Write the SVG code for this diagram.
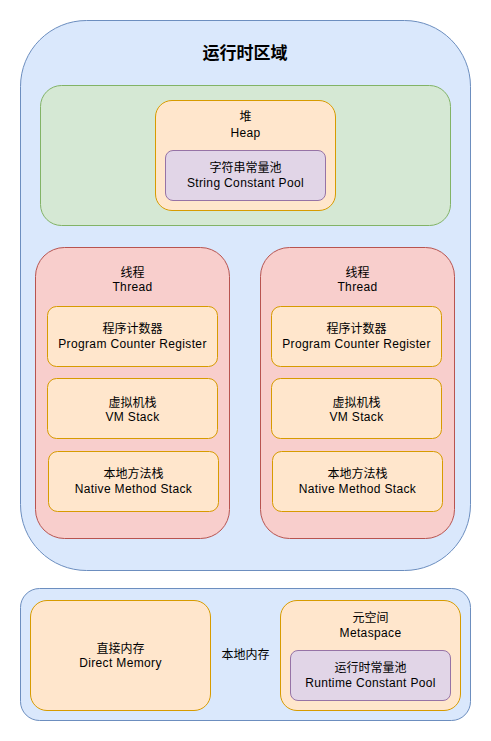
<svg xmlns="http://www.w3.org/2000/svg" width="491" height="741" viewBox="0 0 491 741">
<style>
text{font-family:"Liberation Sans","Noto Sans CJK SC",sans-serif;font-size:12px;fill:#000;text-anchor:middle}
.e{letter-spacing:0.35px}
.t{font-size:17px;font-weight:bold}
.blue{fill:#dae8fc;stroke:#6c8ebf}
.green{fill:#d5e8d4;stroke:#82b366}
.orange{fill:#ffe6cc;stroke:#d79b00}
.purple{fill:#e1d5e7;stroke:#9673a6}
.red{fill:#f8cecc;stroke:#b85450}
</style>
<rect width="491" height="741" fill="#fff"/>
<g id="runtime">
<rect class="blue" x="20.5" y="20.5" width="450" height="550" rx="66" ry="66"/>
<text class="t" x="245" y="59">运行时区域</text>
</g>
<g id="heap-area">
<rect class="green" x="40.5" y="85.5" width="410" height="140" rx="21" ry="21"/>
</g>
<g id="heap">
<rect class="orange" x="155.5" y="100.5" width="180" height="110" rx="16.5" ry="16.5"/>
<text x="245.5" y="121">堆</text>
<text class="e" x="245.5" y="137">Heap</text>
</g>
<g id="string-pool">
<rect class="purple" x="165.5" y="150.5" width="160" height="50" rx="7.5" ry="7.5"/>
<text x="245.5" y="172">字符串常量池</text>
<text class="e" x="245.5" y="187">String Constant Pool</text>
</g>
<g id="thread1">
<rect class="red" x="35.5" y="247.5" width="194" height="291" rx="29" ry="29"/>
<text x="132.5" y="276.5">线程</text>
<text class="e" x="132.5" y="290.5">Thread</text>
</g>
<g id="pcr1">
<rect class="orange" x="47.5" y="306.5" width="170" height="60" rx="9" ry="9"/>
<text x="132.5" y="332.5">程序计数器</text>
<text class="e" x="132.5" y="347.5">Program Counter Register</text>
</g>
<g id="vm1">
<rect class="orange" x="47.5" y="378.5" width="170" height="60" rx="9" ry="9"/>
<text x="132.5" y="406.5">虚拟机栈</text>
<text class="e" x="132.5" y="421">VM Stack</text>
</g>
<g id="native1">
<rect class="orange" x="48.5" y="451.5" width="170" height="60" rx="9" ry="9"/>
<text x="133.5" y="477.5">本地方法栈</text>
<text class="e" x="133.5" y="492.5">Native Method Stack</text>
</g>
<g id="thread2">
<rect class="red" x="260.5" y="247.5" width="194" height="291" rx="29" ry="29"/>
<text x="357.5" y="276.5">线程</text>
<text class="e" x="357.5" y="290.5">Thread</text>
</g>
<g id="pcr2">
<rect class="orange" x="271.5" y="306.5" width="170" height="60" rx="9" ry="9"/>
<text x="356.5" y="332.5">程序计数器</text>
<text class="e" x="356.5" y="347.5">Program Counter Register</text>
</g>
<g id="vm2">
<rect class="orange" x="271.5" y="378.5" width="170" height="60" rx="9" ry="9"/>
<text x="356.5" y="406.5">虚拟机栈</text>
<text class="e" x="356.5" y="421">VM Stack</text>
</g>
<g id="native2">
<rect class="orange" x="272.5" y="451.5" width="170" height="60" rx="9" ry="9"/>
<text x="357.5" y="477.5">本地方法栈</text>
<text class="e" x="357.5" y="492.5">Native Method Stack</text>
</g>
<g id="native-memory">
<rect class="blue" x="20.5" y="588.5" width="450" height="132" rx="19" ry="19"/>
<text x="245.5" y="658.5">本地内存</text>
</g>
<g id="direct-memory">
<rect class="orange" x="30.5" y="600.5" width="180" height="110" rx="16.5" ry="16.5"/>
<text x="120.5" y="652.5">直接内存</text>
<text class="e" x="120.5" y="667">Direct Memory</text>
</g>
<g id="metaspace">
<rect class="orange" x="280.5" y="600.5" width="180" height="110" rx="16.5" ry="16.5"/>
<text x="370.5" y="621.5">元空间</text>
<text class="e" x="370.5" y="636.5">Metaspace</text>
</g>
<g id="runtime-pool">
<rect class="purple" x="290.5" y="650.5" width="160" height="50" rx="7.5" ry="7.5"/>
<text x="370.5" y="671.5">运行时常量池</text>
<text class="e" x="370.5" y="686.5">Runtime Constant Pool</text>
</g>
<g id="connectors"/>
</svg>
